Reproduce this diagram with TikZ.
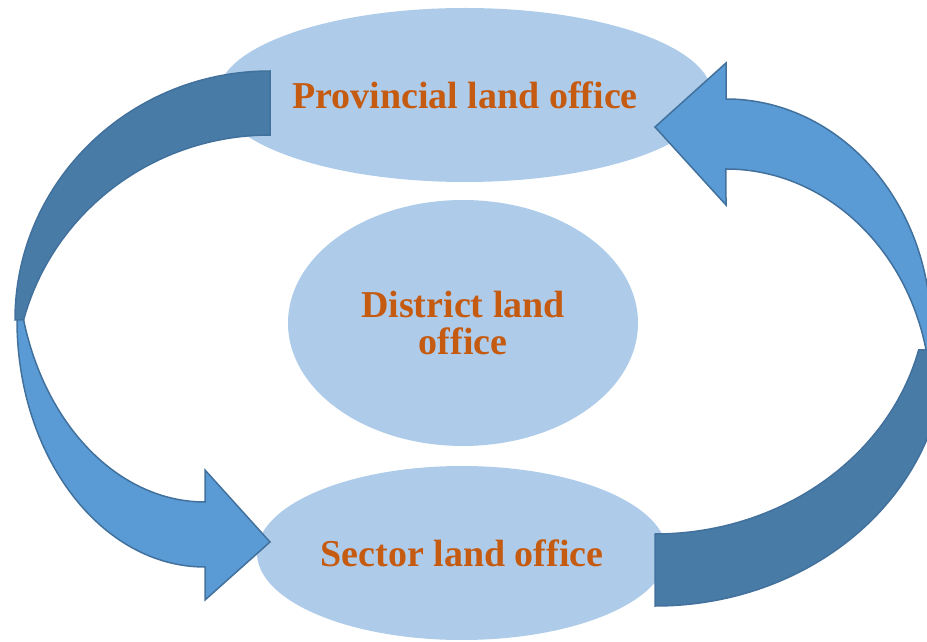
\documentclass[tikz,border=0pt]{standalone}
\usepackage{fontspec}
\setmainfont{Liberation Serif}
\usetikzlibrary{shapes.geometric}
\definecolor{ellfill}{RGB}{174,204,233}
\definecolor{txtcol}{RGB}{197,90,17}
\definecolor{arrfront}{RGB}{91,155,213}
\definecolor{arrback}{RGB}{73,123,167}
\definecolor{arredge}{RGB}{65,113,156}

\begin{document}
\begin{tikzpicture}[x=1pt,y=1pt,
  office/.style={ellipse, fill=ellfill, inner sep=0pt, text=txtcol, align=center,
    font=\bfseries\fontsize{38}{37}\selectfont},
  backface/.style={fill=arrback, draw=arredge, line width=1.5pt, line join=miter},
  frontface/.style={fill=arrfront, draw=arredge, line width=1.5pt, line join=miter}]
\useasboundingbox (0,0) rectangle (927,641);
\clip (0,0) rectangle (927,641);

% the three offices
\node[office, minimum width=494, minimum height=174] (prov) at (465,546) {Provincial land office};
\node[office, minimum width=350, minimum height=246] (dist) at (463,318) {District land\\office};
\node[office, minimum width=410, minimum height=174] (sect) at (462,88) {Sector land office};

% left curved arrow: back face (tail at the provincial office)
\draw[backface] (270,570) arc[start angle=90,end angle=180,x radius=255,y radius=249]
  -- (23.6,321) arc[start angle=165.1,end angle=90,x radius=255,y radius=249] -- cycle;
% left curved arrow: front face with head at the sector office
\draw[frontface] (17,321) arc[start angle=180,end angle=270,x radius=188,y radius=247]
  -- (205,41) -- (270,99) -- (205,171) -- (205,139)
  arc[start angle=270,end angle=195.25,x radius=188,y radius=247] -- cycle;

% right curved arrow: back face (tail at the sector office)
\draw[backface] (945,291) arc[start angle=0,end angle=-90,x radius=290,y radius=256]
  -- (655,107) arc[start angle=-90,end angle=-14.2,x radius=272,y radius=244] -- cycle;
% right curved arrow: front face with head at the provincial office
\draw[frontface] (726,542) arc[start angle=90,end angle=-4.97,x radius=205,y radius=231]
  -- (926.1,291) arc[start angle=12.5,end angle=90,x radius=205,y radius=231]
  -- (726,436) -- (655,514) -- (726,578) -- cycle;
\end{tikzpicture}
\end{document}
